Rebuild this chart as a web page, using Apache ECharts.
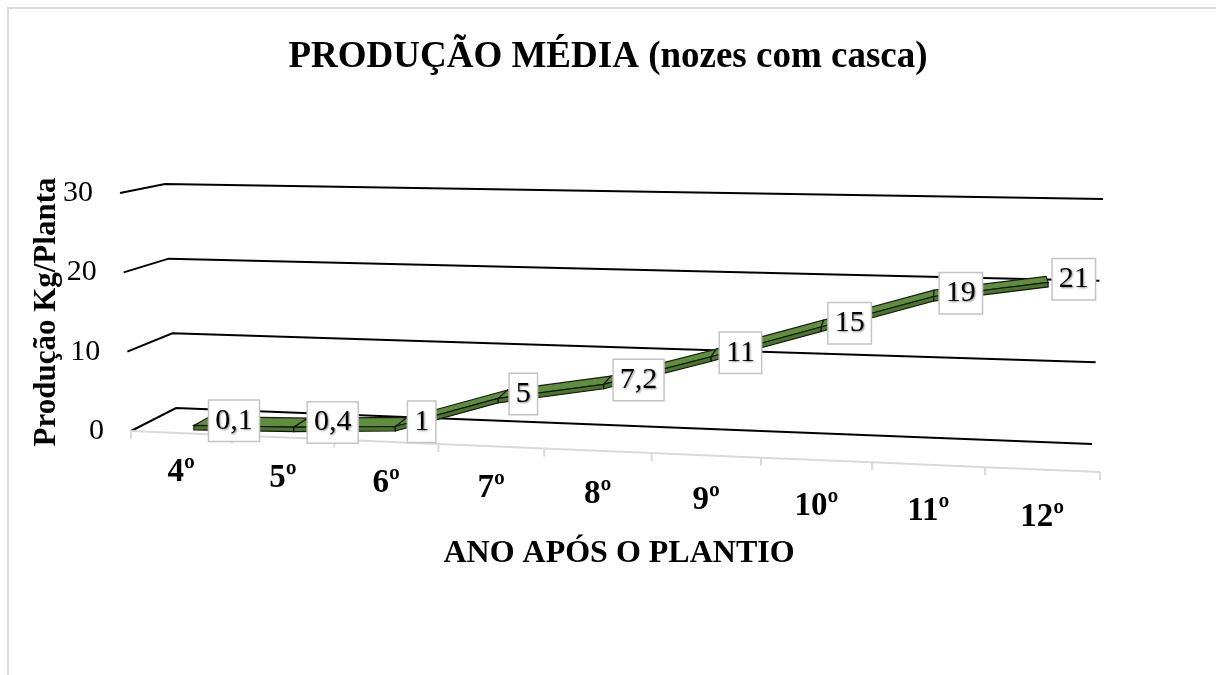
<!DOCTYPE html>
<html><head><meta charset="utf-8">
<script src="https://cdn.jsdelivr.net/npm/echarts@6/dist/echarts.min.js"></script>
<style>html,body{margin:0;padding:0;background:#fff}#c{width:1216px;height:675px}</style>
</head><body><div id="c"></div>
<script>
// ---- data ----
const categories = ['4º', '5º', '6º', '7º', '8º', '9º', '10º', '11º', '12º'];
const values = [0.1, 0.4, 1, 5, 7.2, 11, 15, 19, 21];
const yTicks = [0, 10, 20, 30];
const titleText = 'PRODUÇÃO MÉDIA (nozes com casca)';
const xTitle = 'ANO APÓS O PLANTIO';
const yTitle = 'Produção Kg/Planta';

// ---- perspective box (screen corners of the 3D plot box) ----
const C = {
  FBL: [131, 431], FTL: [120, 193], BBL: [176, 408], BTL: [165, 184],
  FBR: [1100, 472], FTR: [1112, 210], BBR: [1092, 444], BTR: [1103, 199]
};
const R = 1.076;
function warp(u) { return u / (u + R * (1 - u)); }
function lerp(a, b, t) { return [a[0] + (b[0] - a[0]) * t, a[1] + (b[1] - a[1]) * t]; }
function proj(u, v, d) {
  const t = warp(u);
  const fb = lerp(C.FBL, C.FBR, t), ft = lerp(C.FTL, C.FTR, t);
  const bb = lerp(C.BBL, C.BBR, t), bt = lerp(C.BTL, C.BTR, t);
  return lerp(lerp(fb, ft, v), lerp(bb, bt, v), d);
}
function norm(params, api, x, y) {
  const cs = params.coordSys;
  const p = api.coord([x, y]);
  return [(p[0] - cs.x) / cs.width, (cs.y + cs.height - p[1]) / cs.height, api.size([1, 0])[0] / cs.width];
}
const SERIF = "'Liberation Serif','Times New Roman',serif";
const D1 = 0.3, D2 = 0.68;

const chart = echarts.init(document.getElementById('c'), null, { renderer: 'canvas' });
chart.setOption({
  animation: false,
  backgroundColor: '#fff',
  title: {
    text: titleText, left: 'center', top: 34,
    textStyle: { fontFamily: SERIF, fontWeight: 'bold', fontSize: 37, color: '#000' }
  },
  grid: { left: 131, right: 116, top: 193, bottom: 244 },
  xAxis: { type: 'category', data: categories, show: false, boundaryGap: true },
  yAxis: { type: 'value', min: 0, max: 30, interval: 10, show: false },
  graphic: [
    { type: 'rect', shape: { x: 8, y: 8, width: 1400, height: 900 }, style: { fill: 'none', stroke: '#d9dbe0', lineWidth: 2 }, z: -1 },
    { type: 'text', x: 47, y: 312, rotation: Math.PI / 2,
      style: { text: yTitle, font: 'bold 31px ' + SERIF, fill: '#000', textAlign: 'center', textVerticalAlign: 'middle' } },
    { type: 'text', x: 619, y: 554,
      style: { text: xTitle, font: 'bold 32px ' + SERIF, fill: '#000', textAlign: 'center', textVerticalAlign: 'middle' } }
  ],
  series: [
    { // gridlines on walls + value tick labels
      type: 'custom', clip: false, z: 1, silent: true,
      data: yTicks.map(v => [0, v]),
      renderItem: function (params, api) {
        const n = norm(params, api, 0, api.value(1));
        const v = n[1];
        const a = proj(0, v, 0), b = proj(0, v, 1), c = proj(1, v, 1);
        return { type: 'group', children: [
          { type: 'polyline', shape: { points: [a, b, c] }, style: { stroke: '#000', lineWidth: 2, fill: null } },
          { type: 'text', style: { text: String(api.value(1)), x: a[0] - 27, y: a[1], font: '30px ' + SERIF, fill: '#000', align: 'right', verticalAlign: 'middle' } }
        ] };
      }
    },
    { // floor front edge, ticks, category labels
      type: 'custom', clip: false, z: 1, silent: true,
      data: categories.map((c, i) => [i, 0]),
      renderItem: function (params, api) {
        const i = api.value(0);
        const n = norm(params, api, i, 0);
        const uc = n[0], half = n[2] / 2;
        const l = proj(uc - half, 0, 0), r = proj(uc + half, 0, 0), m = proj(uc, 0, 0);
        const ch = [
          { type: 'line', shape: { x1: l[0], y1: l[1], x2: r[0], y2: r[1] }, style: { stroke: '#d9d9d9', lineWidth: 2 } },
          { type: 'line', shape: { x1: l[0], y1: l[1], x2: l[0], y2: l[1] + 8 }, style: { stroke: '#d9d9d9', lineWidth: 2 } },
          { type: 'text', style: { text: categories[i], x: m[0], y: m[1] + 39 + 10 * warp(uc), font: 'bold 33px ' + SERIF, fill: '#000', align: 'center', verticalAlign: 'middle' } }
        ];
        if (i === categories.length - 1) {
          ch.push({ type: 'line', shape: { x1: r[0], y1: r[1], x2: r[0], y2: r[1] + 8 }, style: { stroke: '#d9d9d9', lineWidth: 2 } });
        }
        return { type: 'group', children: ch };
      }
    },
    { // 3D ribbon line
      type: 'custom', clip: false, z: 2, silent: true,
      data: values.map((v, i) => [i, v]),
      renderItem: function (params, api) {
        const idx = params.dataIndexInside;
        if (idx >= values.length - 1) return { type: 'group', children: [] };
        const i = api.value(0), v0 = api.value(1);
        const j = api.value(0, idx + 1), v1 = api.value(1, idx + 1);
        const n0 = norm(params, api, i, v0), n1 = norm(params, api, j, v1);
        const A = proj(n0[0], n0[1], D1), B = proj(n1[0], n1[1], D1);
        const A2 = proj(n0[0], n0[1], D2), B2 = proj(n1[0], n1[1], D2);
        const th = 4.5;
        return { type: 'group', children: [
          { type: 'polygon', shape: { points: [A, B, B2, A2] }, style: { fill: '#5f8f3c', stroke: '#1c1c1c', lineWidth: 1.2 } },
          { type: 'polygon', shape: { points: [A, B, [B[0], B[1] + th], [A[0], A[1] + th]] }, style: { fill: '#4a762c', stroke: '#141414', lineWidth: 1.2 } }
        ] };
      }
    },
    { // data labels
      type: 'custom', clip: false, z: 3, silent: true,
      data: values.map((v, i) => [i, v]),
      renderItem: function (params, api) {
        const i = api.value(0), v = api.value(1);
        const n = norm(params, api, i, v);
        const f = proj(n[0], n[1], D1), m = proj(n[0], n[1], 0.5);
        const gap = 16 - 12 * warp(n[0]);
        return { type: 'text', style: {
          text: String(v).replace('.', ','), x: f[0] + gap, y: m[1],
          font: '30px ' + SERIF, fill: '#000', align: 'left', verticalAlign: 'middle',
          textShadowColor: 'rgba(0,0,0,0.45)', textShadowBlur: 2, textShadowOffsetX: 1, textShadowOffsetY: 1,
          backgroundColor: '#fff', borderColor: '#c4c4c4', borderWidth: 1.5, padding: [5, 6], lineHeight: 30
        } };
      }
    }
  ]
});
</script></body></html>
